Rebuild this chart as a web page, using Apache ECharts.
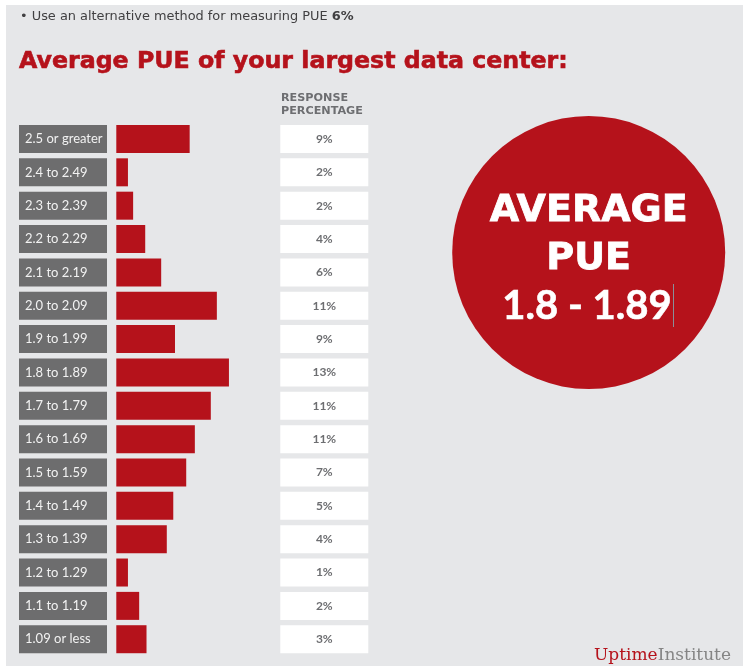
<!DOCTYPE html>
<html><head><meta charset="utf-8">
<script src="https://cdn.jsdelivr.net/npm/echarts@6/dist/echarts.min.js"></script>
<style>html,body{margin:0;padding:0;background:#fff}#c{width:743px;height:666px}</style>
</head><body><div id="c"></div>
<script>
var categories = ['2.5 or greater','2.4 to 2.49','2.3 to 2.39','2.2 to 2.29','2.1 to 2.19','2.0 to 2.09','1.9 to 1.99','1.8 to 1.89','1.7 to 1.79','1.6 to 1.69','1.5 to 1.59','1.4 to 1.49','1.3 to 1.39','1.2 to 1.29','1.1 to 1.19','1.09 or less'];
// bar lengths as drawn in the picture (percent units)
var barValues = [8.5, 1.35, 1.95, 3.35, 5.2, 11.65, 6.8, 13.05, 10.95, 9.1, 8.1, 6.6, 5.85, 1.35, 2.65, 3.5];
// printed response percentages
var pctLabels = ['9%','2%','2%','4%','6%','11%','9%','13%','11%','11%','7%','5%','4%','1%','2%','3%'];

var RED = '#b5121b';
var chart = echarts.init(document.getElementById('c'));
chart.setOption({
  animation: false,
  backgroundColor: '#ffffff',
  grid: {left: 116.3, top: 122.3, width: 164, height: 533.6, outerBoundsMode: 'none', containLabel: false},
  xAxis: {type: 'value', min: 0, max: 19, show: false},
  yAxis: [{
    type: 'category', data: categories, inverse: true, position: 'left',
    axisLine: {show: false}, axisTick: {show: false}, splitLine: {show: false},
    axisLabel: {
      margin: 97.3, align: 'left', verticalAlign: 'middle',
      color: '#f2f2f2', fontFamily: 'Lato', fontSize: 13,
      backgroundColor: '#6d6d6e', width: 82, height: 28, lineHeight: 28,
      padding: [0, 0, 0, 6]
    }
  }, {
    type: 'category', data: pctLabels, inverse: true, position: 'right',
    axisLine: {show: false}, axisTick: {show: false}, splitLine: {show: false},
    axisLabel: {
      margin: 44, align: 'center', verticalAlign: 'middle',
      color: '#6d6e71', fontFamily: 'Lato', fontWeight: 'bold', fontSize: 12,
      backgroundColor: '#ffffff', width: 88, height: 28, lineHeight: 28
    }
  }],
  series: [{
    type: 'bar', data: barValues, yAxisIndex: 0, barWidth: 28, silent: true,
    itemStyle: {color: RED}
  }],
  graphic: [
    {type: 'rect', z: -10, shape: {x: 6, y: 5, width: 737, height: 661}, style: {fill: '#e6e7e9'}, silent: true},
    {type: 'text', x: 20, y: 16.2, style: {
      text: '{a|• Use an alternative method for measuring PUE }{b|6%}',
      verticalAlign: 'middle',
      rich: {a: {fontFamily: 'DejaVu Sans', fontSize: 12.9, fill: '#414042'},
             b: {fontFamily: 'DejaVu Sans', fontSize: 12.9, fontWeight: 'bold', fill: '#414042'}}
    }},
    {type: 'text', x: 19, y: 62, style: {
      text: 'Average PUE of your largest data center:', verticalAlign: 'middle',
      fontFamily: 'DejaVu Sans', fontWeight: 'bold', fontSize: 23.7, fill: RED,
      stroke: RED, lineWidth: 0.6
    }},
    {type: 'text', x: 281, y: 97.7, style: {
      text: 'RESPONSE', verticalAlign: 'middle',
      fontFamily: 'DejaVu Sans', fontWeight: 'bold', fontSize: 11.2, fill: '#6d6e71'
    }},
    {type: 'text', x: 281, y: 111, style: {
      text: 'PERCENTAGE', verticalAlign: 'middle',
      fontFamily: 'DejaVu Sans', fontWeight: 'bold', fontSize: 11.2, fill: '#6d6e71'
    }},
    {type: 'circle', shape: {cx: 588.7, cy: 252.5, r: 136.5}, style: {fill: RED}},
    {type: 'text', x: 588.7, y: 211, style: {
      text: 'AVERAGE', align: 'center', verticalAlign: 'middle',
      fontFamily: 'DejaVu Sans', fontWeight: 'bold', fontSize: 38, fill: '#ffffff',
      stroke: '#ffffff', lineWidth: 0.8
    }},
    {type: 'text', x: 588.7, y: 259, style: {
      text: 'PUE', align: 'center', verticalAlign: 'middle',
      fontFamily: 'DejaVu Sans', fontWeight: 'bold', fontSize: 38, fill: '#ffffff',
      stroke: '#ffffff', lineWidth: 0.8
    }},
    {type: 'text', x: 587, y: 306, style: {
      text: '1.8 - 1.89', align: 'center', verticalAlign: 'middle',
      fontFamily: 'Lato', fontWeight: 'bold', fontSize: 40, fill: '#ffffff',
      stroke: '#ffffff', lineWidth: 0.6
    }},
    {type: 'line', shape: {x1: 673.5, y1: 284, x2: 673.5, y2: 327}, style: {stroke: '#8a8f99', lineWidth: 1}},
    {type: 'text', x: 731, y: 655.5, style: {
      text: '{a|Uptime}{b|Institute}', align: 'right', verticalAlign: 'middle',
      rich: {a: {fontFamily: 'DejaVu Serif', fontSize: 17, fill: RED},
             b: {fontFamily: 'DejaVu Serif', fontSize: 17, fill: '#858585'}}
    }}
  ]
});
</script></body></html>
